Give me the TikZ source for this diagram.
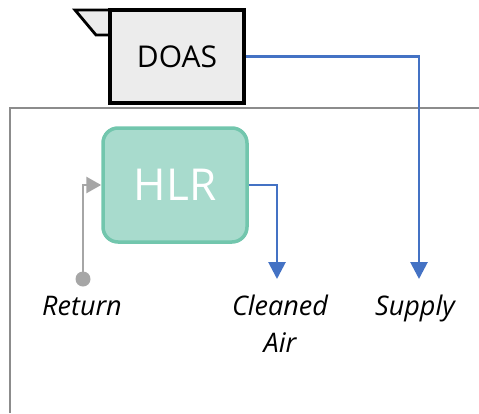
\documentclass[tikz,border=0pt]{standalone}
\usepackage{fontspec}
\setmainfont{Open Sans}
\usetikzlibrary{arrows.meta}
\definecolor{boxgray}{HTML}{ECECEC}
\definecolor{wallgray}{HTML}{8C8C8C}
\definecolor{retgray}{HTML}{A6A6A6}
\definecolor{airblue}{HTML}{4472C4}
\definecolor{hlrfill}{HTML}{A8DBCD}
\definecolor{hlredge}{HTML}{72C6AD}
\tikzset{
  unitbox/.style={draw=black, line width=3.5pt, fill=boxgray, minimum width=134pt, minimum height=93pt, inner sep=0pt, font=\fontsize{30}{36}\selectfont},
  hlrbox/.style={draw=hlredge, line width=3.5pt, fill=hlrfill, rounded corners=15pt, minimum width=144pt, minimum height=114pt, inner sep=0pt, text=white, font=\fontsize{44}{50}\selectfont},
  flowlabel/.style={font=\fontsize{27}{37}\selectfont\itshape, align=center, inner sep=0pt},
  supplyflow/.style={draw=airblue, line width=2.8pt, -{Triangle[length=17pt,width=17pt]}},
  returnflow/.style={draw=retgray, line width=2.8pt, -{Triangle[length=15pt,width=16pt]}},
  wall/.style={draw=wallgray, line width=2.8pt}
}
\begin{document}
\begin{tikzpicture}[x=1pt,y=-1pt]
\useasboundingbox (0,0) rectangle (479,413);
% room boundary
\draw[wall] (10,413) -- (10,108) -- (479,108);
% DOAS unit with intake hood
\draw[line width=2.8pt, fill=boxgray, line join=miter] (75,10) -- (110,10) -- (110,35) -- (96,35) -- cycle;
\node[unitbox] (doas) at (177,56.5) {DOAS};
% heat-load reduction unit
\node[hlrbox] (hlr) at (175,185) {HLR};
% flow endpoints
\coordinate (retstart) at (83,279);
\coordinate (cleanend) at (277,279);
\coordinate (supplyend) at (419,279);
% labels (base anchor sits on the last line)
\node[flowlabel, anchor=base] (retlabel) at (82,315) {Return};
\node[flowlabel, anchor=base] (cleanlabel) at (280,352) {Cleaned\\Air};
\node[flowlabel, anchor=base] (supplylabel) at (415,315) {Supply};
% return air into HLR
\fill[retgray] (retstart) circle (7.5pt);
\draw[returnflow] (retstart) -- (83,185) -- (hlr.west);
% cleaned air out of HLR
\draw[supplyflow] (hlr.east) -- (277,185) -- (cleanend);
% supply air from DOAS
\draw[supplyflow] (doas.east) -- (419,56.5) -- (supplyend);
\end{tikzpicture}
\end{document}
